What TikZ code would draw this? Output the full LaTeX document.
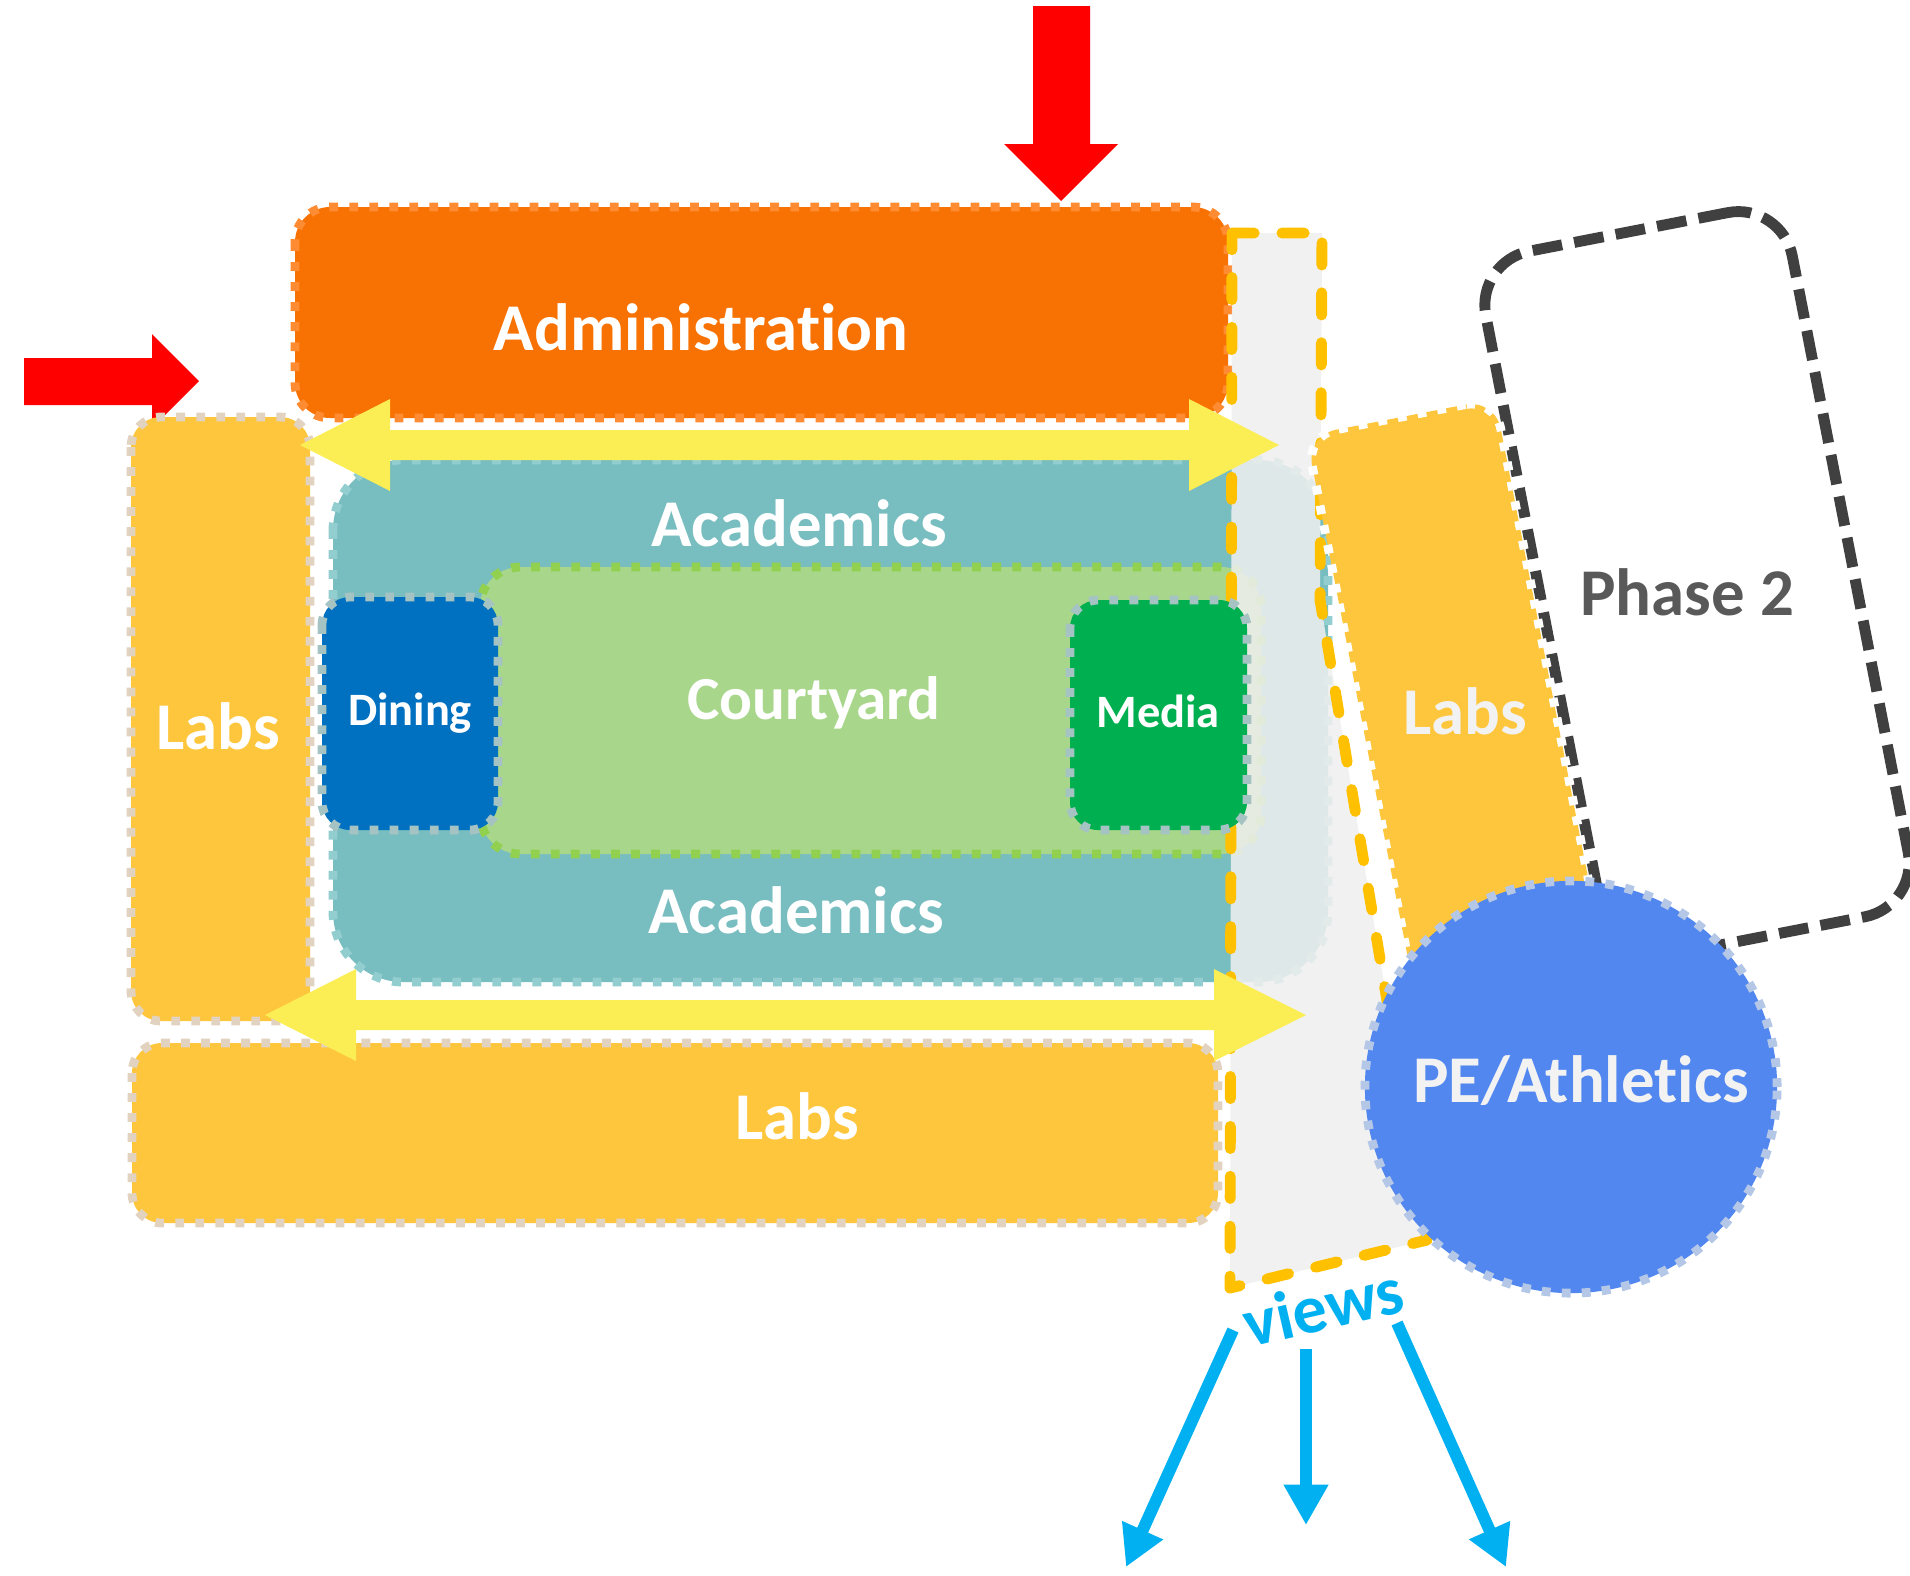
\documentclass[tikz,border=0pt]{standalone}
\usepackage{fontspec}
\setmainfont{Carlito}[Ligatures={NoCommon,NoContextual}]
\usetikzlibrary{arrows.meta}
\definecolor{adminOr}{RGB}{247,114,2}
\definecolor{adminBd}{RGB}{255,140,50}
\definecolor{labsY}{RGB}{254,198,60}
\definecolor{labsBd}{RGB}{226,210,192}
\definecolor{tealA}{RGB}{120,189,192}
\definecolor{tealBd}{RGB}{146,205,207}
\definecolor{courtG}{RGB}{168,214,138}
\definecolor{courtBd}{RGB}{146,208,80}
\definecolor{diningB}{RGB}{0,112,192}
\definecolor{mediaG}{RGB}{0,176,80}
\definecolor{boxBd}{RGB}{166,195,196}
\definecolor{arrowY}{RGB}{251,238,85}
\definecolor{bandG}{RGB}{239,239,239}
\definecolor{bandBd}{RGB}{255,192,0}
\definecolor{peB}{RGB}{82,135,240}
\definecolor{peBd}{RGB}{180,199,231}
\definecolor{phaseBd}{RGB}{64,64,64}
\definecolor{phaseTx}{RGB}{89,89,89}
\definecolor{viewC}{RGB}{0,176,240}
\definecolor{redA}{RGB}{255,0,0}
\definecolor{txtW}{RGB}{242,242,242}
\tikzset{
  dotb/.style={line width=2.5pt, dash pattern=on 2.5pt off 3.2pt},
  lbl/.style={font=\bfseries\fontsize{19}{22}\selectfont, text=white, anchor=base, inner sep=0pt},
  smalllbl/.style={lbl, font=\bfseries\fontsize{13.2}{16}\selectfont},
  blockY/.style={fill=arrowY, draw=none},
  blockR/.style={fill=redA, draw=none},
  viewarrow/.style={draw=viewC, line width=3.4pt, -{Triangle[length=11.5pt,width=12pt]}},
}
\begin{document}
\begin{tikzpicture}[x=0.01cm, y=-0.01cm]
\useasboundingbox (0,0) rectangle (1910,1575);
% red entry arrows
\fill[blockR] (1033,6) -- (1090,6) -- (1090,144) -- (1118,144) -- (1061,201) -- (1004,144) -- (1033,144) -- cycle;
\fill[blockR] (24,358) -- (152,358) -- (152,334) -- (199,381) -- (152,428) -- (152,405) -- (24,405) -- cycle;
% administration
\path[fill=adminOr, draw=adminBd, dotb, rounded corners=0.35cm] (295,207) rectangle (1228,418);
% labs left & bottom
\path[fill=labsY, draw=labsBd, dotb, rounded corners=0.3cm] (131,417) rectangle (310,1021);
\path[fill=labsY, draw=labsBd, dotb, rounded corners=0.3cm] (132,1043) rectangle (1218,1223);
% academics
\path[fill=tealA, draw=tealBd, dotb, rounded corners=0.7cm] (333,460) rectangle (1328,982);
% courtyard
\path[fill=courtG, draw=courtBd, dotb, rounded corners=0.4cm] (480,567) rectangle (1261,854);
% gray band
\fill[bandG, fill opacity=0.87] (1232,233) -- (1322,233) -- (1320,600) -- (1427,1240) -- (1230,1288) -- cycle;
\draw[bandBd, line width=3.1pt, line cap=round, line join=round, dash pattern=on 6.3pt off 7.9pt]
  (1232,233) -- (1322,233) -- (1320,600) -- (1427,1240) -- (1230,1288) -- cycle;
% dining & media
\path[fill=diningB, draw=boxBd, dotb, rounded corners=0.28cm] (322,597) rectangle (498,830);
\path[fill=mediaG, draw=boxBd, dotb, rounded corners=0.28cm] (1070,600) rectangle (1247,830);
% yellow circulation arrows
\fill[blockY] (300,445) -- (390,399) -- (390,430) -- (1189,430) -- (1189,399) -- (1279,445) -- (1189,491) -- (1189,460) -- (390,460) -- (390,491) -- cycle;
\fill[blockY] (265,1015) -- (356,969) -- (356,1000) -- (1214,1000) -- (1214,969) -- (1306,1015) -- (1214,1061) -- (1214,1030) -- (356,1030) -- (356,1061) -- cycle;
% phase 2, right labs, PE circle
\node[draw=phaseBd, line width=3.1pt, dash pattern=on 8.5pt off 3.5pt, rounded corners=0.55cm,
  rotate=11, minimum width=3.12cm, minimum height=7.17cm, inner sep=0pt] (phasebox) at (1697,584) {};
\node[fill=labsY, draw=white, dotb, rounded corners=0.3cm,
  rotate=11, minimum width=1.92cm, minimum height=5.8cm, inner sep=0pt] (labsRbox) at (1456,702) {};
\node[circle, fill=peB, draw=peBd, dotb, minimum size=4.12cm, inner sep=0pt] (pe) at (1571,1087) {};
% labels
\node[lbl] (admin) at (701,350) {Administration};
\node[lbl] (acadT) at (799,546) {Academics};
\node[lbl] (acadB) at (796,933) {Academics};
\node[lbl, font=\bfseries\fontsize{17.4}{21}\selectfont] (court) at (814,719) {Courtyard};
\node[smalllbl] (dining) at (410,725) {Dining};
\node[smalllbl] (media) at (1158,727) {Media};
\node[lbl] (labsL) at (218,749) {Labs};
\node[lbl] (labsB) at (797,1139) {Labs};
\node[lbl, text=txtW] (labsR) at (1465,734) {Labs};
\node[lbl, text=phaseTx] (phase) at (1687,615) {Phase 2};
\node[lbl, text=txtW] (petxt) at (1581,1102) {PE/Athletics};
% views
\node[font=\bfseries\fontsize{19.5}{24}\selectfont, text=viewC, rotate=13, inner sep=0pt] (views) at (1323,1306) {views};
\coordinate (vL0) at (1233,1330); \coordinate (vL1) at (1126,1567);
\coordinate (vM0) at (1306,1349); \coordinate (vM1) at (1306,1525);
\coordinate (vR0) at (1397,1323); \coordinate (vR1) at (1506,1567);
\draw[viewarrow] (vL0) -- (vL1);
\draw[viewarrow] (vM0) -- (vM1);
\draw[viewarrow] (vR0) -- (vR1);
\end{tikzpicture}
\end{document}
